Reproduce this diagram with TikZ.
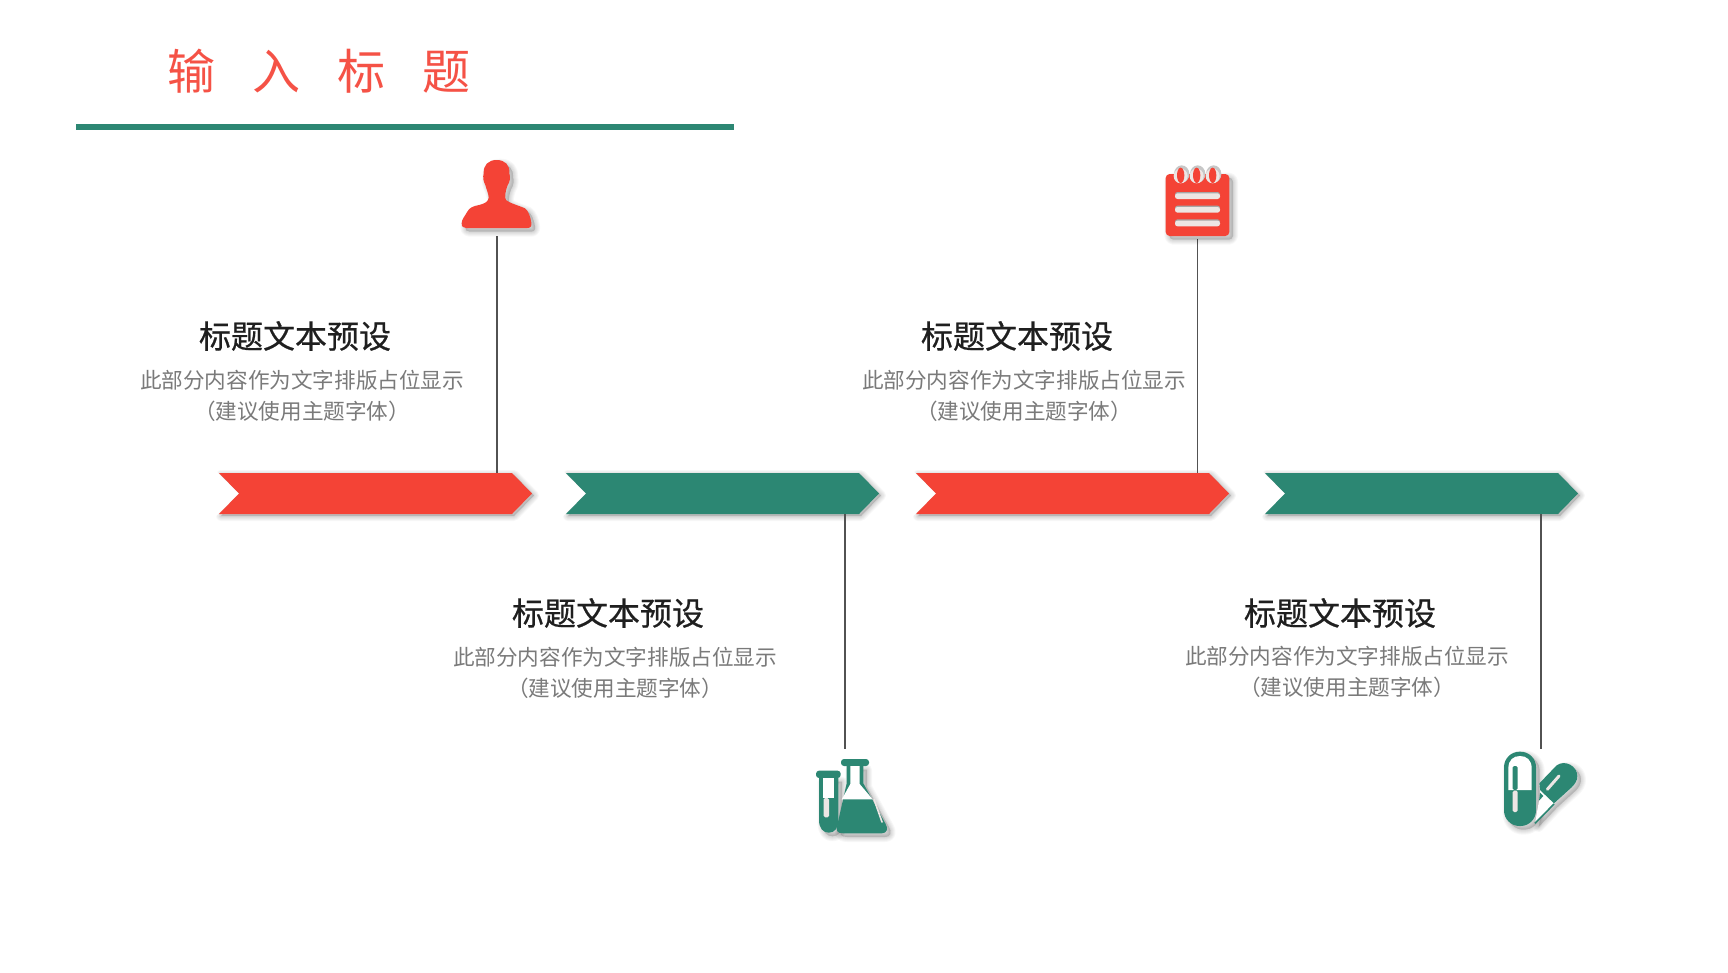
\documentclass[tikz,border=0pt]{standalone}
\usepackage{fontspec}
\setmainfont{Noto Sans CJK SC}
\newfontfamily\headfont[FakeBold=0.6]{Noto Sans CJK SC}
\definecolor{rd}{HTML}{F44336}
\definecolor{tl}{HTML}{2C8773}
\definecolor{lt}{HTML}{EDE6E4}
\newcommand{\softshadow}[2]{%
  \foreach \w in {10,8,6,4,2}{
    \path[draw=black,fill=black,draw opacity=.03,fill opacity=.03,line width=\w pt,line join=round,shift={(#1,#1)}] #2;
  }}
\newcommand{\chevron}[4]{% name, left x, colour, label
  \def\pp{(#2,473) -- (#2+293,473) -- (#2+313,493.5) -- (#2+293,514) -- (#2,514) -- (#2+20,493.5) -- cycle}
  \softshadow{2}{\pp}
  \fill[white] (#2-6,468) -- (#2+20,493.5) -- (#2-6,519) -- cycle;
  \fill[#3] \pp;
  \coordinate (#1top) at (#4,473);
  \coordinate (#1bot) at (#4,514);
}
\tikzset{
  headtext/.style={font=\fontsize{32}{38}\headfont,text=black!88,inner sep=0pt},
  subtext/.style={font=\fontsize{21.6}{31}\selectfont,text=black!52,align=center,inner sep=0pt},
  stem/.style={draw=black!68,line width=1.3pt}
}
\begin{document}
\begin{tikzpicture}[x=1pt,y=-1pt]
\useasboundingbox (0,0) rectangle (1728,972);
\fill[white] (0,0) rectangle (1728,972);

% title
\node[text=rd!92!white,font=\fontsize{48}{56}\selectfont,inner sep=0pt] (title) at (319,71.5) {输\hspace{37pt}入\hspace{37pt}标\hspace{37pt}题};
\fill[tl] (76,124) rectangle (734,129.5);

% chevrons
\chevron{a}{219}{rd}{497}
\chevron{b}{566}{tl}{845}
\chevron{c}{916}{rd}{1197.5}
\chevron{d}{1265}{tl}{1541}

% stems
\coordinate (p1) at (497,236);
\coordinate (p2) at (845,749);
\coordinate (p3) at (1197.5,239);
\coordinate (p4) at (1541,749);
\draw[stem] (p1) -- (atop);
\draw[stem] (bbot) -- (p2);
\draw[stem] (p3) -- (ctop);
\draw[stem] (dbot) -- (p4);

% person
\begin{scope}[shift={(420,140)},scale=1/3]
\def\pp{(230,60) .. controls (205,60) and (190,75) .. (191,100) .. controls (188,112) and (190,125) .. (196,135) .. controls (200,150) and (205,160) .. (206,172) .. controls (206,185) and (195,190) .. (178,195) .. controls (160,198) and (148,203) .. (142,215) .. controls (135,228) and (125,238) .. (125,250) .. controls (125,260) and (130,264) .. (138,264) -- (322,264) .. controls (332,264) and (336,258) .. (334,248) .. controls (332,232) and (325,212) .. (315,205) .. controls (300,198) and (270,190) .. (258,180) .. controls (253,172) and (256,155) .. (262,138) .. controls (270,125) and (272,112) .. (268,100) .. controls (270,75) and (255,60) .. (230,60) -- cycle}
\softshadow{11}{\pp}
\fill[rd] \pp;
\end{scope}

% notepad
\begin{scope}[shift={(1140,150)},scale=1/3]
\def\pp{[rounded corners=4pt] (77,72) rectangle (268,258)}
\softshadow{11}{\pp}
\fill[rd] \pp;
\foreach \x in {122,170,218}{
  \fill[black!22] (\x+3,72) ellipse (23 and 26);
  \fill[lt] (\x,78) ellipse (21 and 22);
  \fill[rd] (\x,76) ellipse (11 and 23);
}
\foreach \y in {137,178,219}{
  \fill[black!35,rounded corners=2.5pt] (105,\y-11) rectangle (240,\y+3);
  \fill[lt,rounded corners=2.5pt] (105,\y-7) rectangle (240,\y+10);
}
\end{scope}

% flask and tube
\begin{scope}[shift={(800,740)},scale=1/3]
\def\pa{(140,78) -- (140,130) -- (112,255) .. controls (106,272) and (112,280) .. (130,280) -- (245,280) .. controls (262,280) and (265,265) .. (256,250) -- (190,130) -- (190,78) -- cycle}
\def\pb{(57,114) -- (57,240) .. controls (57,265) and (70,278) .. (86,278) .. controls (104,278) and (115,265) .. (115,240) -- (115,114) -- cycle}
\softshadow{11}{\pa}
\softshadow{11}{\pb}
\fill[tl] \pa;
\fill[tl,rounded corners=3pt] (123,57) rectangle (207,78);
\fill[white] (151,78) -- (151,132) -- (125,178) -- (218,178) -- (179,132) -- (179,78) -- cycle;
\draw[lt,line width=1.6pt,line cap=round] (222,178) -- (246,246);
\fill[tl] \pb;
\fill[tl,rounded corners=3pt] (48,92) rectangle (122,114);
\fill[white] (69,114) rectangle (102,174);
\fill[lt,rounded corners=1.5pt] (71,174) rectangle (87,232);
\end{scope}

% capsules
\begin{scope}[shift={(1490,740)},scale=1/3]
\def\pa{[rounded corners=15.5pt] (42,35) rectangle (138,258)}
\def\pb{(148,130) -- (200,76) .. controls (225,58) and (262,78) .. (262,108) .. controls (262,122) and (255,132) .. (245,142) -- (190,192) -- (135,250) -- (150,165) -- cycle}
\softshadow{11}{\pa}
\softshadow{11}{\pb}
\fill[tl] \pa;
\fill[white] (55,150) -- (55,85) .. controls (55,60) and (70,48) .. (90,48) .. controls (110,48) and (125,60) .. (125,85) -- (125,150) -- cycle;
\fill[tl,rounded corners=1.5pt] (68,78) rectangle (83,150);
\fill[lt,rounded corners=1.5pt] (68,152) rectangle (83,216);
\fill[white] \pb;
\fill[tl] (148,130) -- (200,76) .. controls (225,58) and (262,78) .. (262,108) .. controls (262,122) and (255,132) .. (245,142) -- (192,190) -- (150,150) -- cycle;
\draw[lt,line width=3pt,line cap=round] (172,148) -- (207,108);
\fill[tl] (150,158) -- (160,168) -- (147,182) -- cycle;
\draw[tl,line width=1.6pt] (135,250) -- (192,192);
\end{scope}

% text blocks
\node[headtext] (h1) at (295,336) {标题文本预设};
\node[subtext] (s1) at (302,395.5) {此部分内容作为文字排版占位显示\\（建议使用主题字体）};
\node[headtext] (h2) at (608,613) {标题文本预设};
\node[subtext] (s2) at (615,672.5) {此部分内容作为文字排版占位显示\\（建议使用主题字体）};
\node[headtext] (h3) at (1017,336) {标题文本预设};
\node[subtext] (s3) at (1024,395.5) {此部分内容作为文字排版占位显示\\（建议使用主题字体）};
\node[headtext] (h4) at (1340,613) {标题文本预设};
\node[subtext] (s4) at (1347,671.5) {此部分内容作为文字排版占位显示\\（建议使用主题字体）};
\end{tikzpicture}
\end{document}
